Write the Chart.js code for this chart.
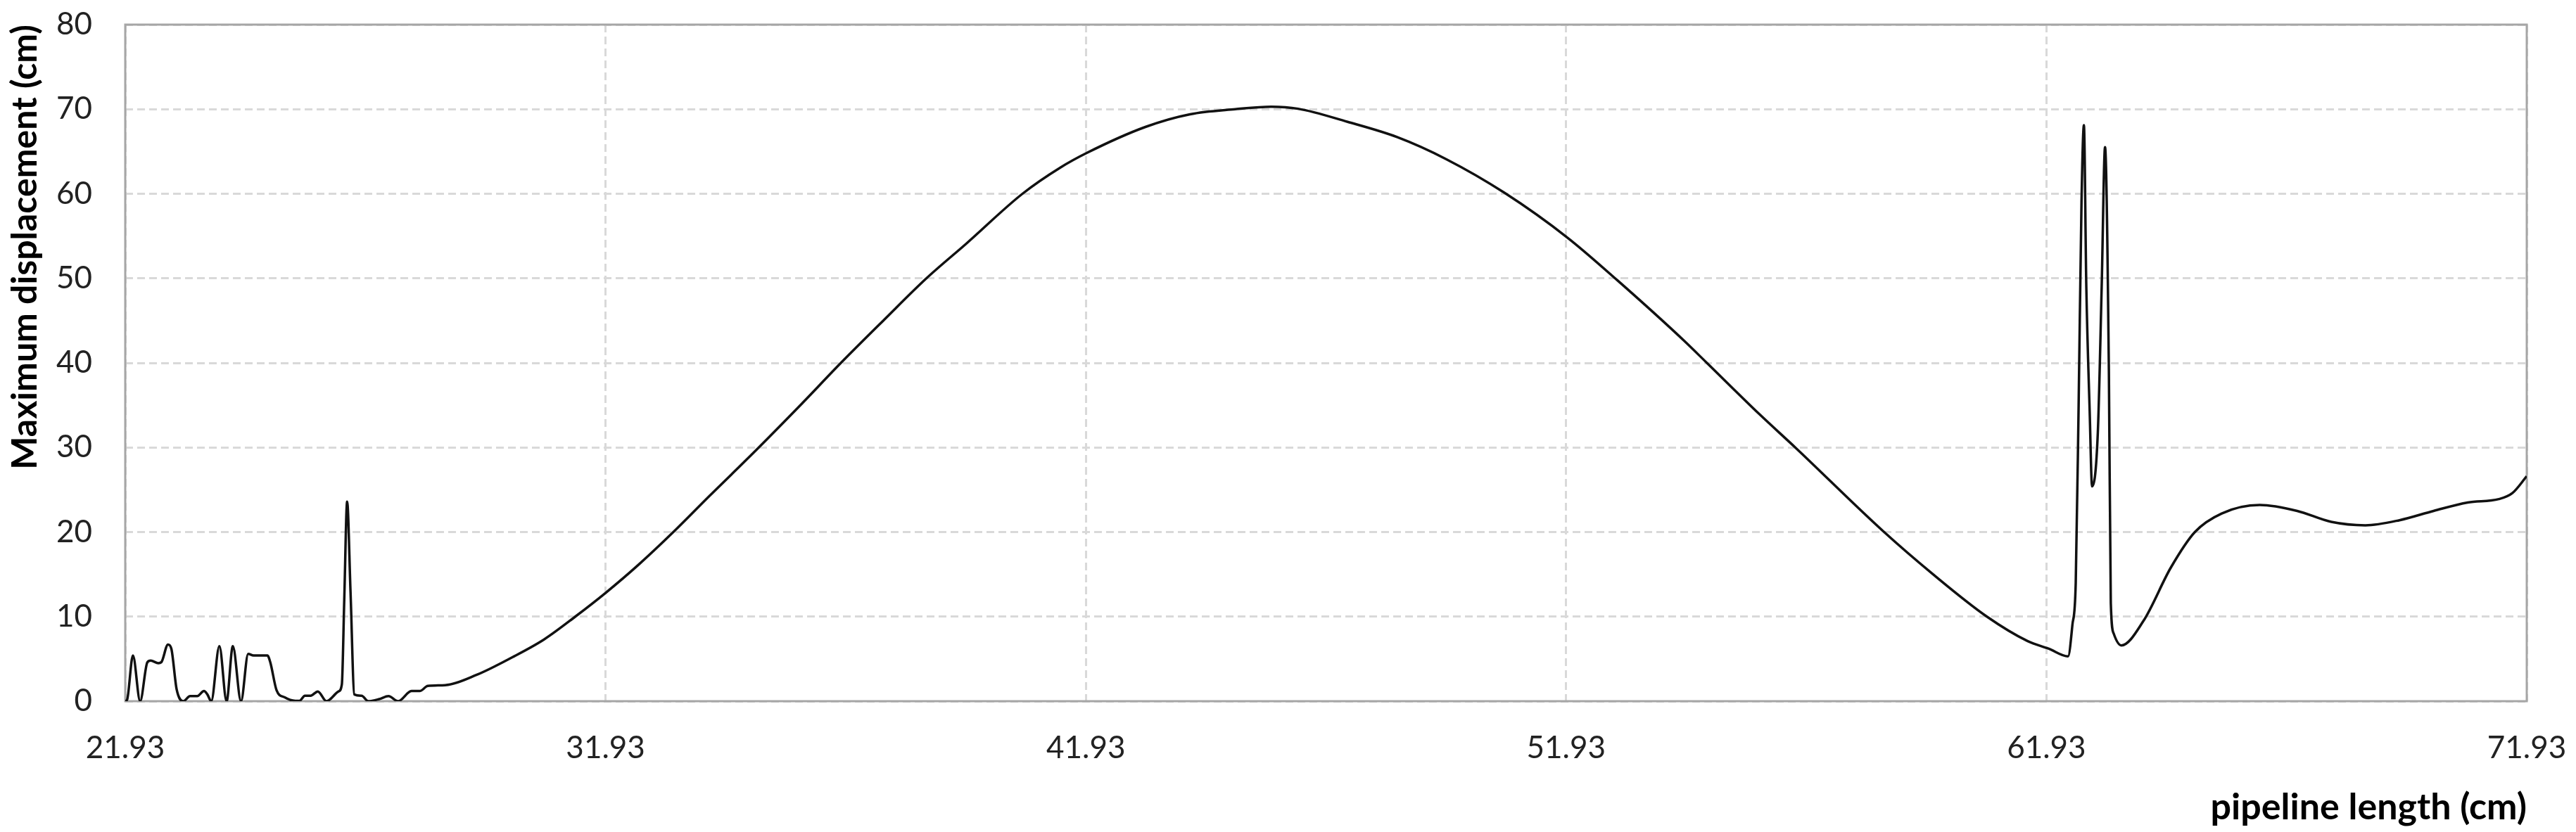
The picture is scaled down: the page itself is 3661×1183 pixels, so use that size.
<!DOCTYPE html>
<html>
<head>
<meta charset="utf-8">
<script src="https://cdn.jsdelivr.net/npm/chart.js@4.4.1/dist/chart.umd.min.js"></script>
<style>
  html, body { margin: 0; padding: 0; background: #fff; }
  #wrap { width: 3661px; height: 1183px; }
</style>
</head>
<body>
<div id="wrap"><canvas id="dispChart" width="3661" height="1183"></canvas></div>
<script>
// pipeline position (cm) and maximum displacement (cm)
const lengths = [
  21.93, 21.97, 22.09, 22.24, 22.39, 22.46, 22.62, 22.68, 22.82, 22.89,
  23.0, 23.14, 23.28, 23.43, 23.57, 23.64, 23.72, 23.89, 24.04, 24.17,
  24.34, 24.49, 24.6, 24.89, 24.95, 25.08, 25.25, 25.47, 25.56, 25.67,
  25.79, 25.94, 26.12, 26.37, 26.44, 26.49, 26.55, 26.62, 26.7, 26.85,
  26.99, 27.22, 27.41, 27.61, 27.89, 28.06, 28.23, 28.59, 29.24, 29.99,
  30.65, 31.3, 31.93, 32.61, 33.36, 34.1, 34.55, 35.12, 36.02, 36.83,
  37.73, 38.61, 39.44, 40.61, 41.4, 41.94, 43.17, 44.1, 45.04, 45.79,
  46.35, 47.38, 48.41, 49.43, 50.65, 51.96, 52.99, 54.39, 54.86, 55.96,
  56.7, 58.53, 59.57, 60.69, 61.54, 61.98, 62.38, 62.47, 62.54, 62.6,
  62.66, 62.71, 62.76, 62.83, 62.88, 63.0, 63.08, 63.15, 63.23, 63.27,
  63.33, 63.49, 63.95, 64.52, 65.02, 65.58, 66.37, 67.15, 67.86, 68.57,
  69.28, 69.99, 70.7, 71.35, 71.63, 71.93
];
const displacement = [
  0.0, 0.2, 5.4, 0.0, 4.6, 4.8, 4.5, 4.6, 6.7, 6.2,
  1.4, 0.0, 0.6, 0.6, 1.2, 0.8, 0.0, 6.5, 0.0, 6.5,
  0.0, 5.6, 5.4, 5.4, 4.6, 1.3, 0.45, 0.05, 0.05, 0.65,
  0.65, 1.15, 0.0, 1.15, 2.0, 12.0, 23.6, 13.0, 0.8, 0.65,
  0.0, 0.25, 0.6, 0.0, 1.2, 1.2, 1.8, 1.9, 3.1, 5.2,
  7.3, 10.0, 12.8, 16.1, 20.1, 24.3, 26.8, 30.0, 35.2, 40.0,
  45.1, 50.0, 54.1, 60.0, 63.1, 64.8, 67.9, 69.4, 70.0, 70.3,
  70.05, 68.5, 66.7, 64.1, 60.1, 54.8, 49.8, 42.6, 40.0, 33.9,
  30.0, 20.1, 15.0, 10.0, 7.1, 6.2, 5.3, 9.0, 14.0, 35.0,
  59.0, 68.1, 49.0, 34.3, 25.4, 31.8, 49.0, 65.5, 39.0, 11.6,
  8.0, 6.6, 9.5, 15.8, 20.0, 22.2, 23.2, 22.5, 21.2, 20.8,
  21.4, 22.5, 23.5, 23.9, 24.6, 26.6
];
const xTicks = [21.93, 31.93, 41.93, 51.93, 61.93, 71.93];
const yTicks = [0, 10, 20, 30, 40, 50, 60, 70, 80];

const gridColor = '#d9d9d9';
const frameColor = '#a6a6a6';

// box around the plot area (Excel style)
const plotFrame = {
  id: 'plotFrame',
  beforeDatasetsDraw(chart) {
    const a = chart.chartArea;
    const ctx = chart.ctx;
    ctx.save();
    ctx.strokeStyle = frameColor;
    ctx.lineWidth = 3;
    ctx.strokeRect(a.left, a.top, a.right - a.left, a.bottom - a.top);
    ctx.restore();
  }
};

const ctx = document.getElementById('dispChart').getContext('2d');

const dispChart = new Chart(ctx, {
  type: 'line',
  data: {
    datasets: [{
      label: 'Maximum displacement',
      data: lengths.map((x, i) => ({ x: x, y: displacement[i] })),
      borderColor: '#111',
      borderWidth: 3.5,
      pointRadius: 0,
      cubicInterpolationMode: 'monotone',
      fill: false
    }]
  },
  options: {
    responsive: false,
    devicePixelRatio: 1,
    animation: false,
    layout: { padding: { left: 0, top: 35, right: 70, bottom: 0 } },
    plugins: {
      legend: { display: false },
      tooltip: { enabled: false }
    },
    scales: {
      x: {
        type: 'linear',
        min: xTicks[0],
        max: xTicks[xTicks.length - 1],
        afterBuildTicks: (scale) => { scale.ticks = xTicks.map(v => ({ value: v })); },
        afterFit: (scale) => {
          scale.height = 186;
          scale.paddingLeft = 0;
          scale.paddingRight = 0;
        },
        grid: {
          color: gridColor,
          lineWidth: 3,
          drawTicks: false
        },
        border: { display: false, dash: [11, 6] },
        ticks: {
          padding: 40,
          maxRotation: 0,
          color: '#222',
          font: { family: 'Lato', size: 44 },
          callback: (v) => Number(v).toFixed(2)
        },
        title: {
          display: true,
          text: 'pipeline length (cm)',
          align: 'end',
          color: '#000',
          padding: { top: 0, bottom: 4 },
          font: { family: 'Lato', size: 52, weight: 'bold' }
        }
      },
      y: {
        min: 0,
        max: 80,
        afterBuildTicks: (scale) => { scale.ticks = yTicks.map(v => ({ value: v })); },
        afterFit: (scale) => {
          scale.width = 178;
          scale.paddingTop = 0;
          scale.paddingBottom = 0;
        },
        grid: {
          color: gridColor,
          lineWidth: 3,
          drawTicks: false
        },
        border: { display: false, dash: [11, 6] },
        ticks: {
          padding: 47,
          color: '#222',
          font: { family: 'Lato', size: 44 }
        },
        title: {
          display: true,
          text: 'Maximum displacement (cm)',
          align: 'end',
          color: '#000',
          padding: { top: 6, bottom: 0 },
          font: { family: 'Lato', size: 50, weight: 'bold' }
        }
      }
    }
  },
  plugins: [plotFrame]
});
</script>
</body>
</html>
